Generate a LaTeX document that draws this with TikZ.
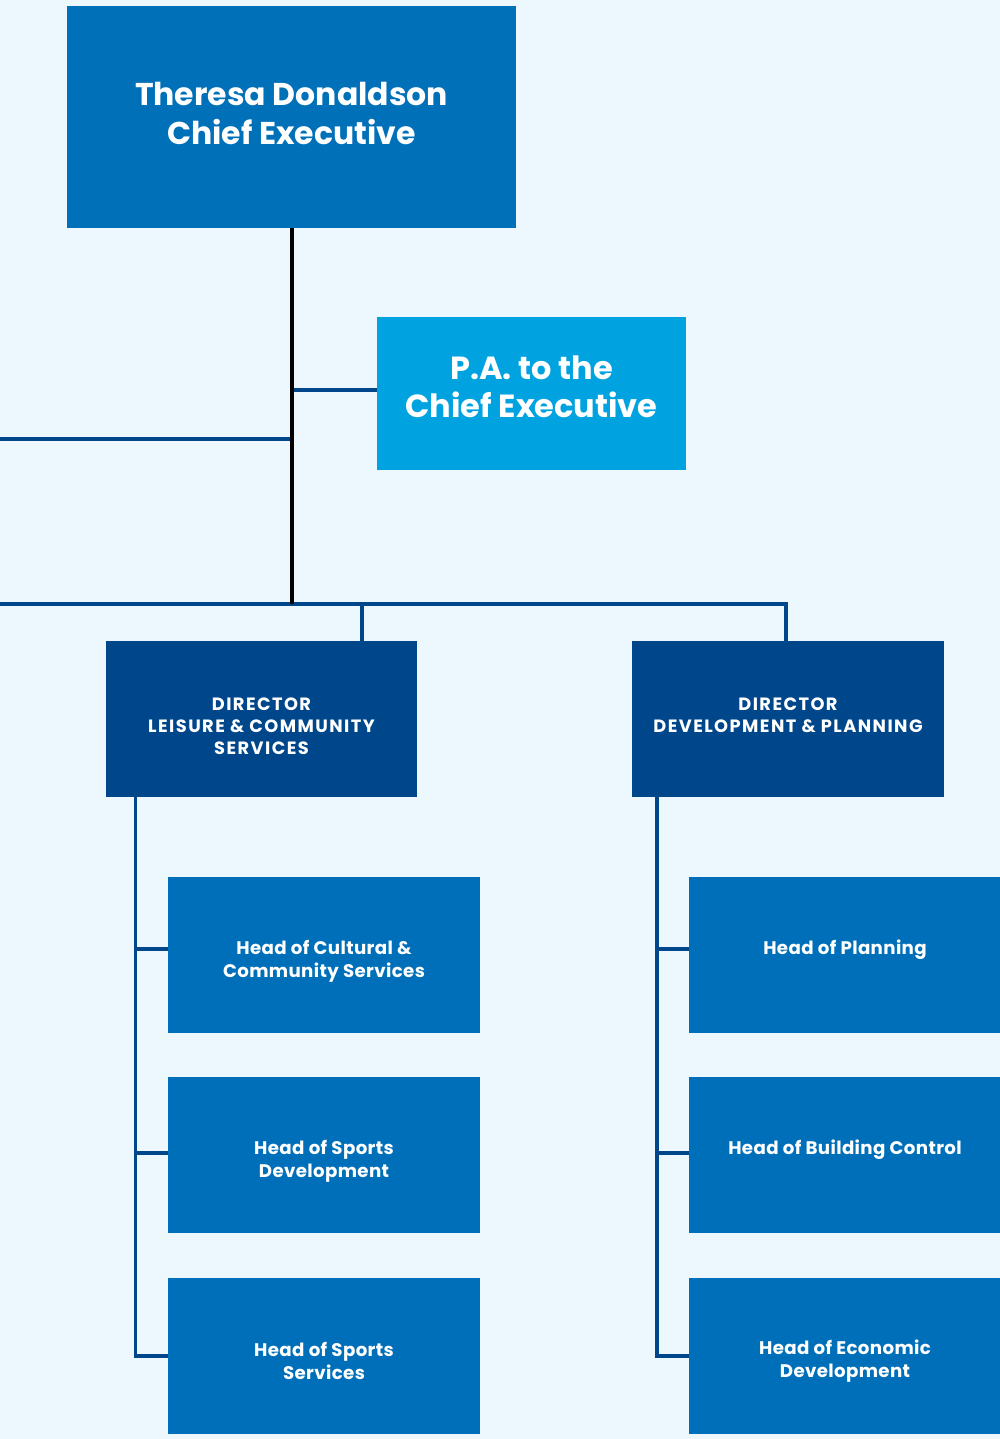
\documentclass[tikz,border=0pt]{standalone}
\usepackage{fontspec}
\setmainfont{Poppins}
\newfontfamily\dirfont{Poppins}[LetterSpace=8]
\newfontfamily\headfont{Poppins}[LetterSpace=2]
\definecolor{bg}{HTML}{EDF7FE}
\definecolor{ceoblue}{HTML}{0070B8}
\definecolor{pablue}{HTML}{00A3E0}
\definecolor{dirblue}{HTML}{00468A}
\definecolor{headblue}{HTML}{006FB9}
\definecolor{linkblue}{HTML}{00468A}
\begin{document}
\begin{tikzpicture}[x=1pt,y=-1pt,
  box/.style={rectangle,inner sep=0pt,outer sep=0pt,draw=none},
  txt/.style={text=white,font=\bfseries,align=center,inner sep=0pt},
  headtxt/.style={txt,font=\headfont\fontsize{18.2}{23}\bfseries\selectfont},
  dirtxt/.style={txt,font=\dirfont\fontsize{17.8}{22}\bfseries\selectfont},
  link/.style={draw=linkblue,line width=3.5pt},
  trunk/.style={draw=black,line width=3.5pt}]
\useasboundingbox (0,0) rectangle (1000,1439);
\fill[bg] (0,0) rectangle (1000,1439);
% boxes
\node[box,fill=ceoblue,minimum width=449pt,minimum height=222pt] (ceo) at (291.5,117) {};
\node[box,fill=pablue,minimum width=309pt,minimum height=153pt] (pa) at (531.5,393.5) {};
\node[box,fill=dirblue,minimum width=311pt,minimum height=156pt] (dirL) at (261.5,719) {};
\node[box,fill=dirblue,minimum width=312pt,minimum height=156pt] (dirR) at (788,719) {};
\node[box,fill=headblue,minimum width=312pt,minimum height=156pt] (hl1) at (324,955) {};
\node[box,fill=headblue,minimum width=312pt,minimum height=156pt] (hl2) at (324,1155) {};
\node[box,fill=headblue,minimum width=312pt,minimum height=156pt] (hl3) at (324,1356) {};
\node[box,fill=headblue,minimum width=312pt,minimum height=156pt] (hr1) at (845,955) {};
\node[box,fill=headblue,minimum width=312pt,minimum height=156pt] (hr2) at (845,1155) {};
\node[box,fill=headblue,minimum width=312pt,minimum height=156pt] (hr3) at (845,1356) {};
% texts
\node[txt,font=\fontsize{31.5}{39}\bfseries\selectfont] (tceo) at (291.5,113.5) {Theresa Donaldson\\Chief Executive};
\node[txt,font=\fontsize{32}{38}\bfseries\selectfont] (tpa) at (531.5,387) {P.A. to the\\Chief Executive};
\node[dirtxt] (tdl) at (261.5,726) {DIRECTOR\\LEISURE \& COMMUNITY\\SERVICES};
\node[dirtxt] (tdr) at (788,715) {DIRECTOR\\DEVELOPMENT \& PLANNING};
\node[headtxt] (thl1) at (324,961) {Head of Cultural \&\\Community Services};
\node[headtxt] (thl2) at (324,1161) {Head of Sports\\Development};
\node[headtxt] (thl3) at (324,1361) {Head of Sports\\Services};
\node[headtxt] (thr1) at (845,949.5) {Head of Planning};
\node[headtxt] (thr2) at (845,1150) {Head of Building Control};
\node[headtxt] (thr3) at (845,1361) {Head of Economic\\Development};
% junction coordinates
\coordinate (tb) at (292,604);
\coordinate (jpa) at (292,390);
\coordinate (jleft) at (290,439);
\coordinate (leftend) at (0,439);
\coordinate (busL) at (0,604);
\coordinate (busR) at (786,604);
\coordinate (dropL) at (362,604);
\coordinate (sl) at (135.5,797);
\coordinate (sr) at (657,797);
% connectors
\draw[link] (leftend) -- (jleft);
\draw[link] (jpa) -- (jpa -| pa.west);
\draw[link] (busL) -- (busR) -- (busR |- dirR.north);
\draw[link] (dropL) -- (dropL |- dirL.north);
\draw[trunk] (ceo.south -| tb) -- (tb);
\draw[link] (sl) -- (sl |- 0,1356) -- (hl3.west |- 0,1356);
\draw[link] (sl |- 0,949) -- (hl1.west |- 0,949);
\draw[link] (sl |- 0,1153) -- (hl2.west |- 0,1153);
\draw[link] (sr) -- (sr |- 0,1356) -- (hr3.west |- 0,1356);
\draw[link] (sr |- 0,949) -- (hr1.west |- 0,949);
\draw[link] (sr |- 0,1153) -- (hr2.west |- 0,1153);
\end{tikzpicture}
\end{document}
